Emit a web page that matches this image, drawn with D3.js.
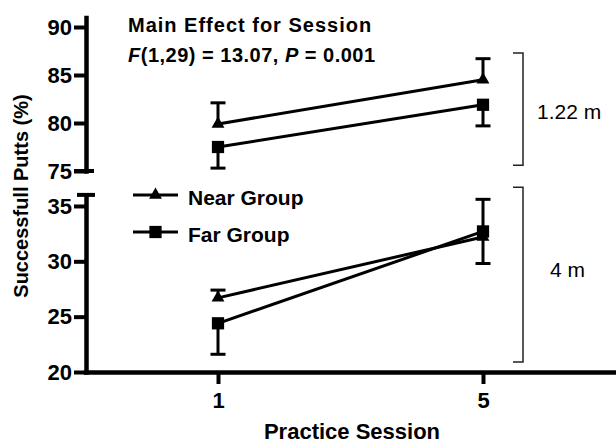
<!DOCTYPE html>
<html>
<head>
<meta charset="utf-8">
<script src="https://cdn.jsdelivr.net/npm/d3@7"></script>
<style>
  body { margin: 0; background: #fff; }
  svg { display: block; font-family: "Liberation Sans", Arial, Helvetica, sans-serif; }
  .axis path, .axis line { stroke: #000; }
  .axis text { fill: #000; font-weight: bold; font-size: 22px; }
</style>
</head>
<body>
<svg id="chart" width="616" height="443"></svg>
<script>
// Practice sessions on the x axis
const sessions = [1, 5];

// 1.22 m putts (upper panel), mean and SEM per session
const near122 = [79.9, 84.5];
const far122 = [77.5, 81.9];
const near122Sem = [2.2, 2.2];
const far122Sem = [2.2, 2.2];

// 4 m putts (lower panel)
const near4 = [26.7, 32.2];
const far4 = [24.4, 32.7];
const near4Sem = [0.7, 2.4];
const far4Sem = [2.8, 2.9];

const topTicks = [75, 80, 85, 90];
const bottomTicks = [20, 25, 30, 35];

const svg = d3.select('#chart');

// Scales: the broken y axis has two segments with their own scale
const x = d3.scaleLinear().domain([-1, 7]).range([85.5, 615.5]);
const yTop = d3.scaleLinear().domain([75, 91]).range([171, 17.4]);
const yBot = d3.scaleLinear().domain([20, 36]).range([372, 194.9]);

// Axes
const axisTop = svg.append('g').attr('class', 'axis')
  .attr('transform', 'translate(86,0)')
  .call(d3.axisLeft(yTop).tickValues(topTicks).tickSize(12).tickSizeOuter(0).tickPadding(2));
const axisBot = svg.append('g').attr('class', 'axis')
  .attr('transform', 'translate(86,0)')
  .call(d3.axisLeft(yBot).tickValues(bottomTicks).tickSize(12).tickSizeOuter(0).tickPadding(2));
const axisX = svg.append('g').attr('class', 'axis')
  .attr('transform', 'translate(0,372)')
  .call(d3.axisBottom(x).tickValues(sessions).tickSize(12).tickSizeOuter(0).tickPadding(8));

[axisTop, axisBot, axisX].forEach(a => {
  a.select('.domain').attr('stroke-width', 4.5).attr('stroke-linecap', 'square');
  a.selectAll('.tick line').attr('stroke-width', 4);
});

// Caps at the ends of the break
svg.append('line')
  .attr('x1', 74).attr('x2', 94)
  .attr('y1', yTop(75)).attr('y2', yTop(75))
  .attr('stroke', '#000').attr('stroke-width', 4);
svg.append('line')
  .attr('x1', 77).attr('x2', 95)
  .attr('y1', yBot(36)).attr('y2', yBot(36))
  .attr('stroke', '#000').attr('stroke-width', 4);

const triangle = d3.symbol().type(d3.symbolTriangle).size(72);
const square = d3.symbol().type(d3.symbolSquare).size(150);

function drawPanel(y, near, far, nearSem, farSem) {
  const g = svg.append('g');
  const line = d3.line().x((d, i) => x(sessions[i])).y(d => y(d));

  [near, far].forEach(vals => {
    g.append('path')
      .attr('d', line(vals))
      .attr('fill', 'none')
      .attr('stroke', '#000')
      .attr('stroke-width', 3);
  });

  // Error bars: the higher group shows its upper bar, the lower group its lower bar
  sessions.forEach((s, i) => {
    const pairs = [[near[i], nearSem[i]], [far[i], farSem[i]]];
    pairs.forEach(([m, e], k) => {
      const other = pairs[1 - k][0];
      const end = m >= other ? m + e : m - e;
      g.append('line')
        .attr('x1', x(s)).attr('x2', x(s))
        .attr('y1', y(m)).attr('y2', y(end))
        .attr('stroke', '#000').attr('stroke-width', 3);
      g.append('line')
        .attr('x1', x(s) - 7.5).attr('x2', x(s) + 7.5)
        .attr('y1', y(end)).attr('y2', y(end))
        .attr('stroke', '#000').attr('stroke-width', 3);
    });
  });

  g.selectAll('.near').data(near).join('path')
    .attr('transform', (d, i) => `translate(${x(sessions[i])},${y(d)})`)
    .attr('d', triangle);
  g.selectAll('.far').data(far).join('path')
    .attr('transform', (d, i) => `translate(${x(sessions[i])},${y(d)})`)
    .attr('d', square);
}

drawPanel(yTop, near122, far122, near122Sem, far122Sem);
drawPanel(yBot, near4, far4, near4Sem, far4Sem);

// Distance brackets
function bracket(y, lo, hi) {
  svg.append('path')
    .attr('d', `M513,${y(hi)}H523V${y(lo)}H513`)
    .attr('fill', 'none')
    .attr('stroke', '#222')
    .attr('stroke-width', 1.5);
}
bracket(yTop, 75.6, 87.3);
bracket(yBot, 20.9, 36.7);

svg.append('text').attr('x', 537).attr('y', 119)
  .attr('font-size', 21).text('1.22 m');
svg.append('text').attr('x', 550).attr('y', 277)
  .attr('font-size', 21).text('4 m');

// Title block
svg.append('text').attr('x', 128).attr('y', 32)
  .attr('font-size', 20).attr('font-weight', 'bold').attr('letter-spacing', 1)
  .text('Main Effect for Session');
const stat = svg.append('text').attr('x', 128).attr('y', 62)
  .attr('font-size', 20).attr('font-weight', 'bold').attr('letter-spacing', 0.5);
stat.append('tspan').attr('font-style', 'italic').text('F');
stat.append('tspan').text('(1,29) = 13.07, ');
stat.append('tspan').attr('font-style', 'italic').text('P');
stat.append('tspan').text(' = 0.001');

// Legend
const legend = [
  { label: 'Near Group', symbol: triangle, y: 195 },
  { label: 'Far Group', symbol: square, y: 232 }
];
legend.forEach(l => {
  svg.append('line')
    .attr('x1', 133).attr('x2', 178)
    .attr('y1', l.y).attr('y2', l.y)
    .attr('stroke', '#000').attr('stroke-width', 3);
  svg.append('path')
    .attr('transform', `translate(155.5,${l.y})`)
    .attr('d', l.symbol);
  svg.append('text')
    .attr('x', 188).attr('y', l.y + 10)
    .attr('font-size', 21).attr('font-weight', 'bold')
    .text(l.label);
});

// Axis titles
svg.append('text')
  .attr('transform', 'translate(28,196) rotate(-90)')
  .attr('text-anchor', 'middle')
  .attr('font-size', 20).attr('font-weight', 'bold')
  .text('Successfull Putts (%)');
svg.append('text')
  .attr('x', 352).attr('y', 439)
  .attr('text-anchor', 'middle')
  .attr('font-size', 22).attr('font-weight', 'bold')
  .text('Practice Session');
</script>
</body>
</html>
